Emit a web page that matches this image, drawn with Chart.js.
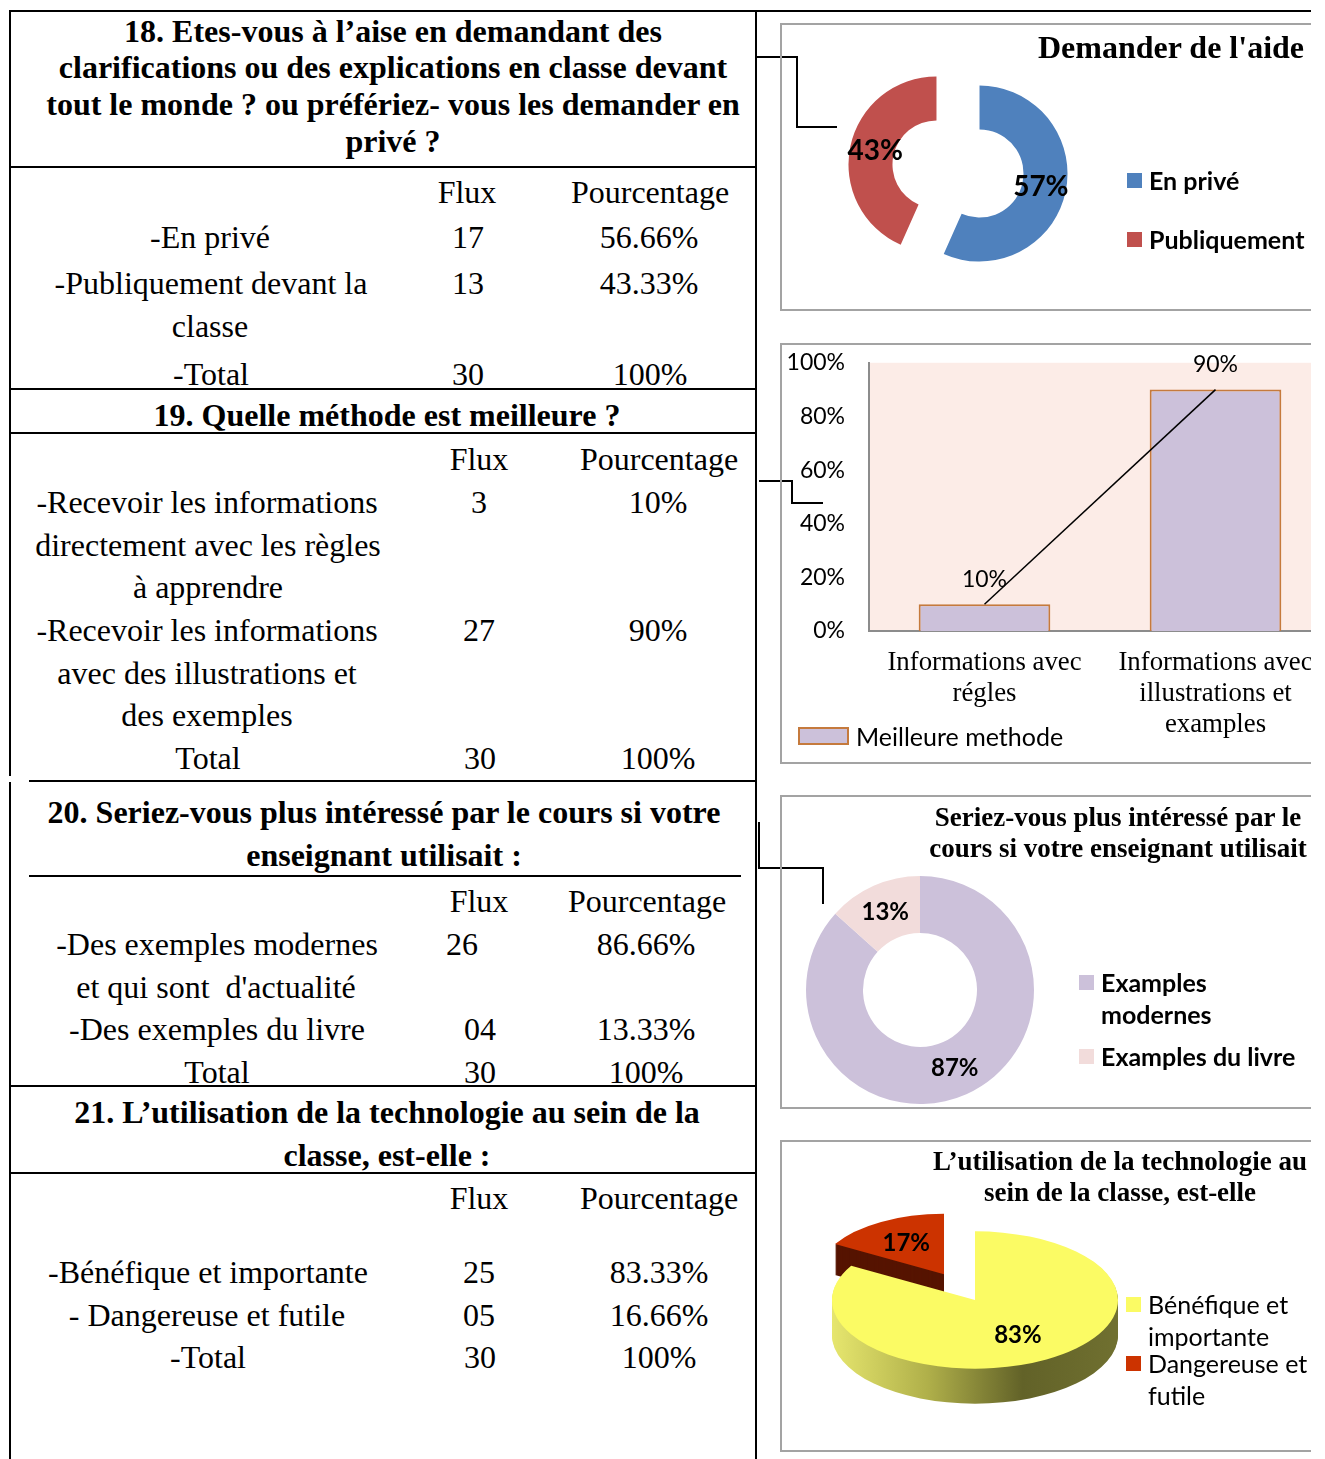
<!DOCTYPE html>
<html>
<head>
<meta charset="utf-8">
<script src="https://cdn.jsdelivr.net/npm/chart.js@4.4.1/dist/chart.umd.min.js"></script>
<style>
  body { margin: 0; background: #fff; }
  #page { position: relative; width: 1311px; height: 1459px; overflow: hidden; font-family: 'Liberation Serif', 'Times New Roman', serif; color: #000; }
  .t { position: absolute; white-space: pre; transform: translate(-50%, -50%); line-height: 1; }
  .l { position: absolute; white-space: pre; transform: translateY(-50%); line-height: 1; }
  .ln { position: absolute; background: #000; }
  .box { position: absolute; border: 2px solid #a3a3a3; border-right: none; box-sizing: border-box; }
  .sw { position: absolute; box-sizing: border-box; }
  canvas { position: absolute; }
</style>
</head>
<body>
<div id="page">
  <canvas id="c1" width="240" height="240" style="left:838px;top:49px"></canvas>
  <canvas id="c2" width="560" height="420" style="left:780px;top:325px"></canvas>
  <canvas id="c3" width="240" height="240" style="left:800px;top:870px"></canvas>
  <canvas id="c4" width="370" height="230" style="left:790px;top:1195px"></canvas>
</div>
<script>
// ---- chart data ----
const aideLabels   = ['En privé', 'Publiquement'];
const aideValues   = [56.66, 43.33];
const aideColors   = ['#4f81bd', '#c0504d'];

const methodeLabels = [['Informations avec', 'régles'], ['Informations avec', 'illustrations et', 'examples']];
const methodeValues = [10, 90];
const methodeSeries = 'Meilleure methode';
const yTicks        = [0, 20, 40, 60, 80, 100];

const exemplesLabels = [['Examples', 'modernes'], ['Examples du livre']];
const exemplesValues = [86.66, 13.33];
const exemplesColors = ['#ccc1da', '#f2dcdb'];

const techLabels = [['Bénéfique et', 'importante'], ['Dangereuse et', 'futile']];
const techValues = [83.33, 16.66];
const techColors = ['#fbfb64', '#cc3300'];

const page = document.getElementById('page');

function put(cls, x, y, txt, size, extra) {
  const d = document.createElement('div');
  d.className = cls;
  d.style.left = x + 'px';
  d.style.top = y + 'px';
  d.style.fontSize = size + 'px';
  if (extra) Object.assign(d.style, extra);
  d.textContent = txt;
  page.appendChild(d);
  return d;
}
function line(x1, y1, x2, y2) {
  const d = document.createElement('div');
  d.className = 'ln';
  d.style.left = (Math.min(x1, x2) - 1) + 'px';
  d.style.top = (Math.min(y1, y2) - 1) + 'px';
  d.style.width = (Math.abs(x2 - x1) + 2) + 'px';
  d.style.height = (Math.abs(y2 - y1) + 2) + 'px';
  page.appendChild(d);
}
function box(x, y, w, h) {
  const d = document.createElement('div');
  d.className = 'box';
  Object.assign(d.style, { left: x + 'px', top: y + 'px', width: w + 'px', height: h + 'px' });
  page.appendChild(d);
}

// ---- left tables ----
const HB = { fontWeight: 'bold' };
const H = 32, B = 32;
[
  [393, 31, '18. Etes-vous à l’aise en demandant des'],
  [393, 67, 'clarifications ou des explications en classe devant'],
  [393, 104, 'tout le monde ? ou préfériez- vous les demander en'],
  [393, 141, 'privé ?'],
  [387, 415, '19. Quelle méthode est meilleure ?'],
  [384, 812, '20. Seriez-vous plus intéressé par le cours si votre'],
  [384, 855, 'enseignant utilisait :'],
  [387, 1112, '21. L’utilisation de la technologie au sein de la'],
  [387, 1155, 'classe, est-elle :']
].forEach(r => put('t', r[0], r[1], r[2], H, HB));

[
  [467, 192, 'Flux'], [650, 192, 'Pourcentage'],
  [210, 237, '-En privé'], [468, 237, '17'], [649, 237, '56.66%'],
  [211, 283, '-Publiquement devant la'], [468, 283, '13'], [649, 283, '43.33%'],
  [210, 326, 'classe'],
  [211, 374, '-Total'], [468, 374, '30'], [650, 374, '100%'],

  [479, 459, 'Flux'], [659, 459, 'Pourcentage'],
  [207, 502, '-Recevoir les informations'], [479, 502, '3'], [658, 502, '10%'],
  [208, 545, 'directement avec les règles'],
  [208, 587, 'à apprendre'],
  [207, 630, '-Recevoir les informations'], [479, 630, '27'], [658, 630, '90%'],
  [207, 673, 'avec des illustrations et'],
  [207, 715, 'des exemples'],
  [208, 758, 'Total'], [480, 758, '30'], [658, 758, '100%'],

  [479, 901, 'Flux'], [647, 901, 'Pourcentage'],
  [217, 944, '-Des exemples modernes'], [462, 944, '26'], [646, 944, '86.66%'],
  [216, 987, 'et qui sont  d\'actualité'],
  [217, 1029, '-Des exemples du livre'], [480, 1029, '04'], [646, 1029, '13.33%'],
  [217, 1072, 'Total'], [480, 1072, '30'], [646, 1072, '100%'],

  [479, 1198, 'Flux'], [659, 1198, 'Pourcentage'],
  [208, 1272, '-Bénéfique et importante'], [479, 1272, '25'], [659, 1272, '83.33%'],
  [207, 1315, '- Dangereuse et futile'], [479, 1315, '05'], [659, 1315, '16.66%'],
  [208, 1357, '-Total'], [480, 1357, '30'], [659, 1357, '100%']
].forEach(r => put('t', r[0], r[1], r[2], B));

// frame lines
line(10, 11, 1311, 11);
line(10, 11, 10, 775);
line(10, 783, 10, 1459);
line(756, 11, 756, 1459);
line(10, 167, 756, 167);
line(10, 389, 756, 389);
line(10, 433, 756, 433);
line(30, 781, 756, 781);
line(30, 876, 740, 876);
line(10, 1086, 756, 1086);
line(10, 1173, 756, 1173);
// connectors
line(756, 57, 797, 57); line(797, 57, 797, 127); line(797, 127, 836, 127);
line(760, 481, 792, 481); line(792, 481, 792, 503); line(792, 503, 822, 503);
line(759, 823, 759, 868); line(759, 868, 823, 868); line(823, 868, 823, 903);

// chart frames
box(780, 23, 560, 288);
box(780, 343, 560, 421);
box(780, 795, 560, 314);
box(780, 1140, 560, 312);

// chart titles
put('t', 1171, 47, 'Demander de l\'aide', 32, HB);
put('t', 1118, 817, 'Seriez-vous plus intéressé par le', 27, HB);
put('t', 1118, 848, 'cours si votre enseignant utilisait', 27, HB);
put('t', 1120, 1161, 'L’utilisation de la technologie au', 27, HB);
put('t', 1120, 1192, 'sein de la classe, est-elle', 27, HB);

// legends
const sans = { fontFamily: 'Lato, sans-serif' };
function legend(items, colors, x, ys, lh, size, bold) {
  items.forEach((lab, i) => {
    const lines = Array.isArray(lab) ? lab : [lab];
    const sw = document.createElement('div');
    sw.className = 'sw';
    Object.assign(sw.style, { left: x + 'px', top: (ys[i] - 7) + 'px', width: '15px', height: '15px', background: colors[i] });
    page.appendChild(sw);
    lines.forEach((s, j) => put('l', x + 22, ys[i] + j * lh, s, size, Object.assign({ fontWeight: bold ? 'bold' : 'normal' }, sans)));
  });
}
legend(aideLabels, aideColors, 1127, [180, 239], 0, 25, true);
legend(exemplesLabels, exemplesColors, 1079, [982, 1056], 32, 25, true);
legend(techLabels, techColors, 1126, [1304, 1363], 32, 25, false);

const sw2 = document.createElement('div');
sw2.className = 'sw';
Object.assign(sw2.style, { left: '798px', top: '727px', width: '51px', height: '18px', background: '#ccc1da', border: '2px solid #c57a3d' });
page.appendChild(sw2);
put('l', 856, 736, methodeSeries, 25, sans);

// ---- Chart.js ----
Chart.defaults.font.family = 'Lato';
Chart.defaults.color = '#000';

// draws pie / doughnut slices, optionally exploded and as a tilted 3D disc
const slicePlugin = {
  id: 'slices',
  beforeDatasetsDraw(chart, args, o) {
    const ctx = chart.ctx;
    const arcs = chart.getDatasetMeta(0).data;
    const values = chart.data.datasets[0].data;
    const cy = arcs[0].y;
    const k = o.squash || 1;
    const ty = o.centerY != null ? o.centerY : cy;
    const order = o.order || arcs.map((a, i) => i);
    const explode = o.explode || [];
    const sizes = o.sizes || [];
    const mid = arc => (arc.startAngle + arc.endAngle) / 2;
    // moves into the (squashed) plane of slice i, d px below the top face
    const place = (arc, i, d) => {
      const dd = explode[i] || 0, s = sizes[i] || 1;
      ctx.translate(0, ty + d);
      ctx.scale(1, k);
      ctx.translate(0, -cy);
      ctx.translate(arc.x + Math.cos(mid(arc)) * dd, arc.y + Math.sin(mid(arc)) * dd);
      ctx.scale(s, s);
      ctx.translate(-arc.x, -arc.y);
    };

    if (o.depth) {
      order.forEach(i => {
        const arc = arcs[i];
        let fill = o.sides[i];
        if (Array.isArray(fill)) {
          const g = ctx.createLinearGradient(arc.x - arc.outerRadius, 0, arc.x + arc.outerRadius, 0);
          fill.forEach((c, j) => g.addColorStop(j / (fill.length - 1), c));
          fill = g;
        }
        const depth = Math.round(o.depth * (sizes[i] || 1));
        for (let d = depth; d > 0; d--) {
          ctx.save();
          place(arc, i, d);
          ctx.beginPath();
          ctx.moveTo(arc.x, arc.y);
          ctx.arc(arc.x, arc.y, arc.outerRadius, arc.startAngle, arc.endAngle);
          ctx.closePath();
          ctx.fillStyle = fill;
          ctx.fill();
          ctx.restore();
        }
      });
    }

    order.forEach(i => {
      ctx.save();
      place(arcs[i], i, 0);
      arcs[i].draw(ctx);
      ctx.restore();
    });

    ctx.save();
    ctx.font = o.font;
    ctx.fillStyle = '#000';
    ctx.textAlign = 'center';
    ctx.textBaseline = 'middle';
    arcs.forEach((arc, i) => {
      const a = mid(arc);
      const r = (explode[i] || 0) + (arc.innerRadius + arc.outerRadius) / 2 * (o.labelR || 1) * (sizes[i] || 1);
      ctx.fillText(Math.round(values[i]) + '%', arc.x + Math.cos(a) * r, ty + Math.sin(a) * r * k);
    });
    ctx.restore();
    return false;
  }
};

const noUi = { legend: { display: false }, tooltip: { enabled: false } };

// 18. Demander de l'aide
new Chart(document.getElementById('c1'), {
  type: 'doughnut',
  data: { labels: aideLabels, datasets: [{ data: aideValues, backgroundColor: aideColors, borderWidth: 0 }] },
  options: {
    responsive: false, animation: false, radius: 88, cutout: '50%',
    plugins: Object.assign({ slices: { explode: [22, 22], labelR: 0.95, font: 'bold 28px Lato' } }, noUi)
  },
  plugins: [slicePlugin]
});

// 19. Meilleure methode
const plotBg = {
  id: 'plotBg',
  beforeDraw(chart, args, o) {
    const { ctx, chartArea: a } = chart;
    ctx.save();
    ctx.fillStyle = o.color;
    ctx.fillRect(a.left, a.top, a.right - a.left, a.bottom - a.top);
    ctx.restore();
  }
};
const pointLabels = {
  id: 'pointLabels',
  afterDatasetsDraw(chart, args, o) {
    const ctx = chart.ctx;
    const meta = chart.getDatasetMeta(0);
    ctx.save();
    ctx.font = o.font;
    ctx.fillStyle = '#000';
    ctx.textAlign = 'center';
    ctx.textBaseline = 'middle';
    meta.data.forEach((p, i) => ctx.fillText(chart.data.datasets[0].data[i] + '%', p.x, p.y - o.lift));
    ctx.restore();
  }
};

new Chart(document.getElementById('c2'), {
  type: 'bar',
  data: {
    labels: methodeLabels,
    datasets: [
      { type: 'line', data: methodeValues, borderColor: '#000', borderWidth: 1.5, pointRadius: 0, order: 0 },
      { type: 'bar', label: methodeSeries, data: methodeValues, backgroundColor: '#ccc1da', borderColor: '#c57a3d',
        borderWidth: 2, barPercentage: 0.57, categoryPercentage: 1, order: 1 }
    ]
  },
  options: {
    responsive: false, animation: false,
    layout: { padding: { top: 16, right: 9, left: 0, bottom: 0 } },
    plugins: Object.assign({ plotBg: { color: '#fcece7' }, pointLabels: { font: '23px Lato', lift: 25 } }, noUi),
    scales: {
      x: {
        grid: { display: false, drawTicks: false },
        border: { color: '#8c8c8c', width: 2 },
        ticks: { color: '#000', padding: 16, autoSkip: false, maxRotation: 0,
          font: { family: 'Liberation Serif', size: 26.8, lineHeight: 1.17 } },
        afterFit: s => { s.height = 114; }
      },
      y: {
        min: 0, max: 100,
        grid: { display: false, drawTicks: false },
        border: { color: '#8c8c8c', width: 2 },
        ticks: { color: '#000', padding: 24, font: { family: 'Lato', size: 23 }, callback: v => v + '%' },
        afterBuildTicks: s => { s.ticks = yTicks.map(v => ({ value: v })); },
        afterFit: s => { s.width = 89; }
      }
    }
  },
  plugins: [plotBg, pointLabels]
});

// 20. Seriez-vous plus intéressé...
new Chart(document.getElementById('c3'), {
  type: 'doughnut',
  data: { labels: exemplesLabels, datasets: [{ data: exemplesValues, backgroundColor: exemplesColors, borderWidth: 0 }] },
  options: {
    responsive: false, animation: false, radius: 114, cutout: '50%',
    plugins: Object.assign({ slices: { labelR: 1, font: 'bold 24px Lato' } }, noUi)
  },
  plugins: [slicePlugin]
});

// 21. L'utilisation de la technologie (3D pie)
new Chart(document.getElementById('c4'), {
  type: 'pie',
  data: { labels: techLabels, datasets: [{ data: techValues, backgroundColor: techColors, borderWidth: 0 }] },
  options: {
    responsive: false, animation: false, radius: 143,
    plugins: Object.assign({ slices: {
      explode: [0, 62], sizes: [1, 0.88], squash: 0.48, centerY: 105, depth: 35, order: [1, 0],
      sides: [['#e6e66e', '#b0b04a', '#626228', '#707030'], '#561400'],
      labelR: 1.2, font: 'bold 24px Lato'
    } }, noUi)
  },
  plugins: [slicePlugin]
});
</script>
</body>
</html>
